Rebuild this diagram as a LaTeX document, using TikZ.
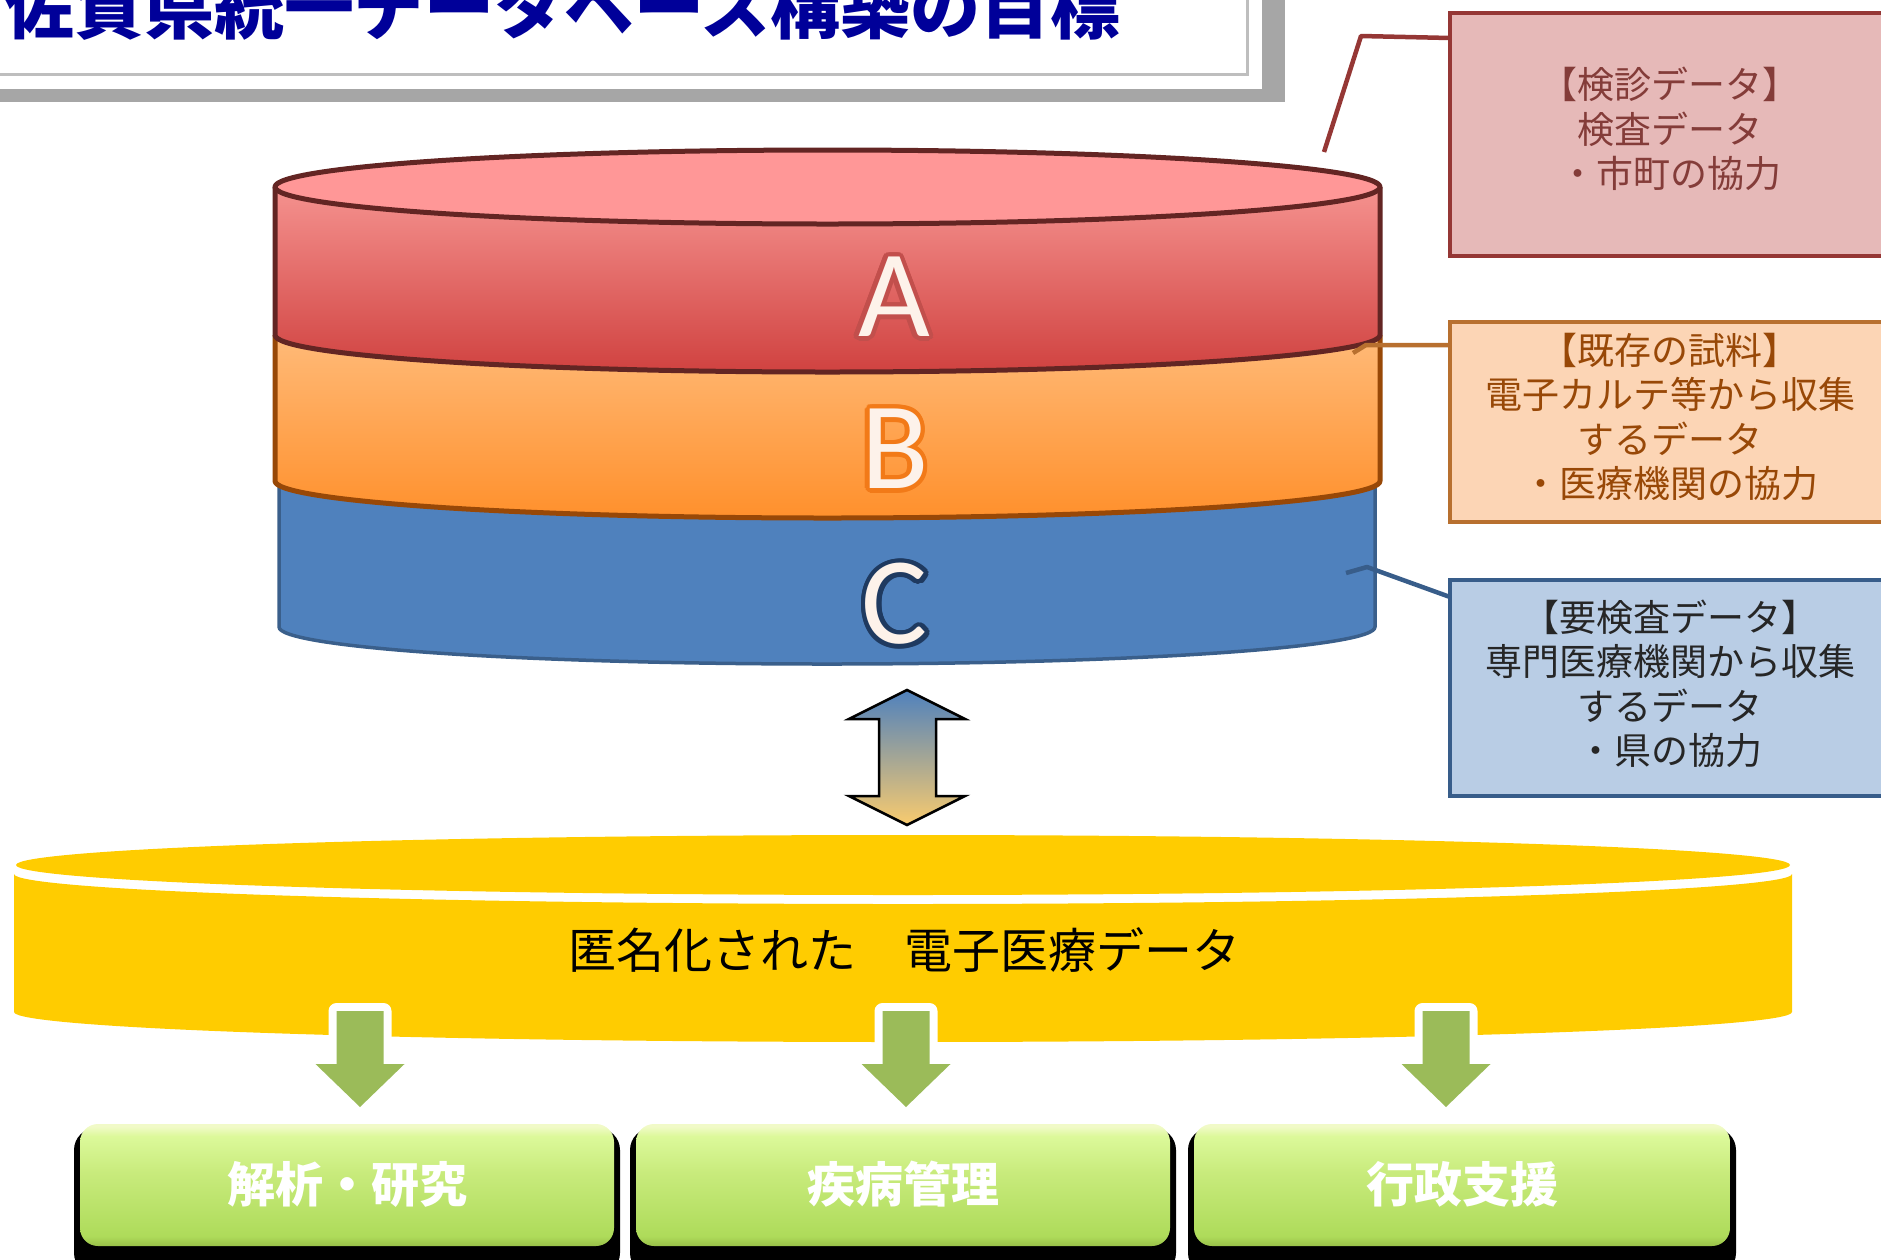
\documentclass[tikz,border=0pt]{standalone}
\usepackage{fontspec}
\newfontfamily\jp{Noto Sans CJK JP}
\newfontfamily\carl{Carlito}
\usetikzlibrary{calc}
\definecolor{navy}{HTML}{000099}
\definecolor{tgray}{HTML}{A6A6A6}
\definecolor{tline}{HTML}{BEBEBE}
\definecolor{Atopf}{HTML}{FF9797}
\definecolor{Atop}{HTML}{F5928F}
\definecolor{Abot}{HTML}{D04240}
\definecolor{Aline}{HTML}{632523}
\definecolor{Btop}{HTML}{FFBA78}
\definecolor{Bbot}{HTML}{FF902C}
\definecolor{Bline}{HTML}{984807}
\definecolor{Cfill}{HTML}{4F81BD}
\definecolor{Cline}{HTML}{3A5F8B}
\definecolor{Aout}{HTML}{C24F4C}
\definecolor{Bout}{HTML}{F27A18}
\definecolor{Cout}{HTML}{1F3A60}
\definecolor{cream}{HTML}{FDF2EA}
\definecolor{pinkfill}{HTML}{E6B9B8}
\definecolor{pinkline}{HTML}{953735}
\definecolor{pinktext}{HTML}{843C39}
\definecolor{orfill}{HTML}{FCD5B5}
\definecolor{orline}{HTML}{B8702F}
\definecolor{ortext}{HTML}{984807}
\definecolor{blfill}{HTML}{B9CDE5}
\definecolor{blline}{HTML}{385D8A}
\definecolor{bltext}{HTML}{262626}
\definecolor{arrB}{HTML}{4F81BD}
\definecolor{arrM}{HTML}{BBA294}
\definecolor{arrY}{HTML}{F9CB6E}
\definecolor{yel}{HTML}{FFCC00}
\definecolor{garrow}{HTML}{9BBB59}
\definecolor{gP}{HTML}{F1FAC8}
\definecolor{gT}{HTML}{DCF99A}
\definecolor{gM}{HTML}{C8EB7C}
\definecolor{gB2}{HTML}{AEDB5A}
\definecolor{gB}{HTML}{98C048}
\pgfdeclareverticalshading{gbox}{100bp}{color(0bp)=(gB); color(25bp)=(gB); color(29bp)=(gB2); color(55bp)=(gM); color(70bp)=(gT); color(74bp)=(gP); color(100bp)=(gP)}
\tikzset{
  titletext/.style={font=\jp\bfseries\fontsize{70}{70}\selectfont, text=navy, inner sep=0pt},
  letter/.style={font=\carl\fontsize{124}{124}\selectfont, inner sep=0pt},
  calltext/.style={font=\jp\fontsize{37}{44.5}\selectfont, align=center, inner sep=0pt},
  callbox/.style={draw, line width=4pt, inner sep=0pt},
  callline/.style={line width=4.5pt, line join=round},
  disktext/.style={font=\jp\fontsize{48}{48}\selectfont, text=black, inner sep=0pt},
  btext/.style={font=\jp\bfseries\fontsize{48}{48}\selectfont, text=white, inner sep=0pt},
  layerline/.style={line width=5pt, line join=round},
}
% outlined letter inside one node: #1 letter, #2 outline colour
\newcommand\olet[2]{%
  \foreach \k in {1,...,16}{%
    \pgfmathsetmacro\odx{4.5*cos(\k*22.5)}%
    \pgfmathsetmacro\ody{4.5*sin(\k*22.5)}%
    \rlap{\hspace*{\odx pt}\raisebox{\ody pt}{\textcolor{#2}{#1}}}}%
  \textcolor{cream}{#1}}
\begin{document}
\begin{tikzpicture}[x=1pt,y=-1pt]
\useasboundingbox (0,0) rectangle (1881,1259);
% title box
\fill[tgray] (-30,-30) rectangle (1285,102);
\fill[white] (-30,-30) rectangle (1262,89);
\draw[tline, line width=3pt] (-30,-30) rectangle (1247,74);
\node[titletext, anchor=base west] (title) at (4,33) {佐賀県統一データベース構築の目標};
% layer C
\fill[Cfill] (279,481) -- (279,627) arc[start angle=180,end angle=360,x radius=548pt,y radius=37pt] -- (1375,481) -- cycle;
\draw[Cline, layerline, line width=3.5pt] (279,481) -- (279,627) arc[start angle=180,end angle=360,x radius=548pt,y radius=37pt] -- (1375,481);
% layer B
\shade[top color=Btop, bottom color=Bbot] (275,335) -- (275,481) arc[start angle=180,end angle=360,x radius=552.5pt,y radius=37pt] -- (1380,335) -- cycle;
\draw[Bline, layerline] (275,335) -- (275,481) arc[start angle=180,end angle=360,x radius=552.5pt,y radius=37pt] -- (1380,335);
% layer A
\shade[top color=Atop, bottom color=Abot] (275,187) -- (275,335) arc[start angle=180,end angle=360,x radius=552.5pt,y radius=37pt] -- (1380,187) -- cycle;
\draw[Aline, layerline] (275,187) -- (275,335) arc[start angle=180,end angle=360,x radius=552.5pt,y radius=37pt] -- (1380,187);
\draw[Aline, layerline, fill=Atopf] (827.5,187) ellipse[x radius=552.5pt, y radius=37pt];
% letters
\node[letter] (LA) at (894,297) {\olet{A}{Aout}};
\node[letter] (LB) at (895,449) {\olet{B}{Bout}};
\node[letter] (LC) at (895,604) {\olet{C}{Cout}};
% callout boxes
\node[callbox, draw=pinkline, fill=pinkfill, minimum width=455pt, minimum height=243pt] (boxA) at (1677.5,134.5) {};
\node[callbox, draw=orline, fill=orfill, minimum width=455pt, minimum height=200pt] (boxB) at (1677.5,422) {};
\node[callbox, draw=blline, fill=blfill, minimum width=455pt, minimum height=216pt] (boxC) at (1677.5,688) {};
\node[calltext, text=pinktext] (tA) at (1670,129) {【検診データ】\\検査データ\\・市町の協力};
\node[calltext, text=ortext] (tB) at (1670,417) {【既存の試料】\\電子カルテ等から収集\\するデータ\\・医療機関の協力};
\node[calltext, text=bltext] (tC) at (1670,684) {【要検査データ】\\専門医療機関から収集\\するデータ\\・県の協力};
% callout lines
\coordinate (pA1) at (1324,152); \coordinate (pA2) at (1361,36); \coordinate (pA3) at (1450,38);
\coordinate (pB1) at (1353,353); \coordinate (pB2) at (1366,345); \coordinate (pB3) at (1450,345);
\coordinate (pC1) at (1346,573); \coordinate (pC2) at (1367,567); \coordinate (pC3) at (1450,597);
\draw[callline, pinkline] (pA1) -- (pA2) -- (pA3);
\draw[callline, orline] (pB1) -- (pB2) -- (pB3);
\draw[callline, blline] (pC1) -- (pC2) -- (pC3);
% double arrow
\shadedraw[top color=arrB, middle color=arrM, bottom color=arrY, draw=black, line width=2.5pt, line join=miter]
  (907,690) -- (965,719) -- (936,719) -- (936,796) -- (965,796) -- (907,825) -- (849,796) -- (879,796) -- (879,719) -- (849,719) -- cycle;
% yellow disk
\fill[yel] (14,874) -- (14,1012) arc[start angle=180,end angle=360,x radius=889pt,y radius=30pt] -- (1792,874) arc[start angle=360,end angle=180,x radius=889pt,y radius=30pt] -- cycle;
\fill[yel] (903,865) ellipse[x radius=887pt, y radius=30pt];
\node[disktext] (dtext) at (904,950) {匿名化された　電子医療データ};
% green arrows
\foreach \cx in {360,906,1446}{
  \draw[white, line width=16pt, line join=round] (\cx-23.5,1011) -- (\cx+23.5,1011) -- (\cx+23.5,1064) -- (\cx+44.5,1064) -- (\cx,1107) -- (\cx-44.5,1064) -- (\cx-23.5,1064) -- cycle;
  \fill[garrow] (\cx-23.5,1011) -- (\cx+23.5,1011) -- (\cx+23.5,1064) -- (\cx+44.5,1064) -- (\cx,1107) -- (\cx-44.5,1064) -- (\cx-23.5,1064) -- cycle;
}
% green boxes
\foreach \L/\R in {74/620,630/1176,1188/1736}{
  \fill[black, rounded corners=22pt] (\L,1128) rectangle (\R,1275);
  \shade[shading=gbox, rounded corners=18pt] (\L+6,1124) rectangle (\R-6,1246);
}
\node[btext] (g1) at (347,1184) {解析・研究};
\node[btext] (g2) at (903,1184) {疾病管理};
\node[btext] (g3) at (1462,1184) {行政支援};
\end{tikzpicture}
\end{document}
